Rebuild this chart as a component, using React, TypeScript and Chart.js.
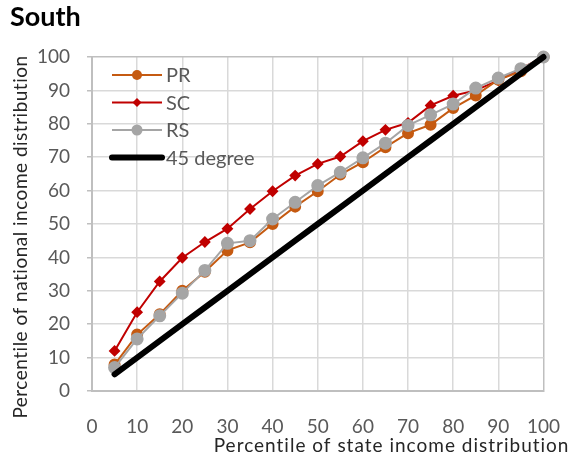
import React, { useEffect, useRef } from "react";
import { Chart, registerables } from "chart.js";

Chart.register(...registerables);

const titleText = "South";
const xAxisTitle = "Percentile of state income distribution";
const yAxisTitle = "Percentile of national income distribution";

const percentiles = [5, 10, 15, 20, 25, 30, 35, 40, 45, 50, 55, 60, 65, 70, 75, 80, 85, 90, 95, 100];
const prValues = [7.9, 16.9, 23, 30, 35.7, 42.1, 44.5, 50, 55.2, 59.8, 64.8, 68.5, 73, 77.2, 79.7, 84.7, 88.5, 93.2, 95.7, 100];
const scValues = [12, 23.6, 32.8, 39.9, 44.6, 48.6, 54.5, 59.8, 64.5, 68, 70.2, 74.8, 78.2, 80.3, 85.5, 88.4, 90, 93, 96.5, 100];
const rsValues = [7, 15.6, 22.5, 29.3, 36.1, 44.2, 45, 51.5, 56.5, 61.5, 65.5, 69.8, 74.2, 79.5, 82.7, 85.9, 90.7, 93.7, 96.5, 100];
const degreeValues = [5, 10, 15, 20, 25, 30, 35, 40, 45, 50, 55, 60, 65, 70, 75, 80, 85, 90, 95, 100];

const seriesLabels = ["PR", "SC", "RS", "45 degree"];

const FONT = "Lato";

const toPoints = (ys: number[]) => percentiles.map((x, i) => ({ x, y: ys[i] }));

const legendPlugin = {
  id: "insideLegend",
  afterDraw(chart: any) {
    const { ctx, chartArea } = chart;
    const datasets = chart.data.datasets;
    ctx.save();
    datasets.forEach((ds: any, i: number) => {
      const y = chartArea.top + 18 + i * 27.5;
      const x0 = chartArea.left + 20;
      const x1 = chartArea.left + 70;
      const xm = (x0 + x1) / 2;
      ctx.strokeStyle = ds.borderColor;
      ctx.lineWidth = ds.borderWidth;
      ctx.lineCap = ds.borderCapStyle || "butt";
      ctx.beginPath();
      ctx.moveTo(x0, y);
      ctx.lineTo(x1, y);
      ctx.stroke();
      const r = ds.pointRadius || 0;
      if (r > 0) {
        ctx.fillStyle = ds.pointBackgroundColor;
        ctx.beginPath();
        if (ds.pointStyle === "rectRot") {
          ctx.moveTo(xm, y - r);
          ctx.lineTo(xm + r, y);
          ctx.lineTo(xm, y + r);
          ctx.lineTo(xm - r, y);
          ctx.closePath();
        } else {
          ctx.arc(xm, y, r, 0, Math.PI * 2);
        }
        ctx.fill();
      }
      ctx.fillStyle = "#595959";
      ctx.font = `20px ${FONT}`;
      ctx.textAlign = "left";
      ctx.textBaseline = "middle";
      ctx.fillText(ds.label, x1 + 4, y + 1);
    });
    ctx.restore();
  },
};

const axisTitlePlugin = {
  id: "axisTitles",
  afterDraw(chart: any) {
    const { ctx, chartArea } = chart;
    ctx.save();
    ctx.fillStyle = "#262626";
    ctx.font = `19px ${FONT}`;
    ctx.textBaseline = "middle";
    ctx.textAlign = "right";
    (ctx as any).letterSpacing = "1px";
    ctx.fillText(xAxisTitle, chartArea.right + 26, chartArea.bottom + 55);
    (ctx as any).letterSpacing = "0.5px";
    ctx.translate(21, (chartArea.top + chartArea.bottom) / 2 + 13);
    ctx.rotate(-Math.PI / 2);
    ctx.textAlign = "center";
    ctx.fillText(yAxisTitle, 0, 0);
    ctx.restore();
  },
};

export default function App() {
  const canvasRef = useRef<HTMLCanvasElement | null>(null);

  useEffect(() => {
    if (!canvasRef.current) return;
    const gridColor = (c: any) => (c.tick && c.tick.value === 100 ? "#bfbfbf" : "#d9d9d9");
    const chart = new Chart(canvasRef.current, {
      type: "line",
      data: {
        datasets: [
          {
            label: seriesLabels[0],
            data: toPoints(prValues),
            borderColor: "#c55a11",
            backgroundColor: "#c55a11",
            pointBackgroundColor: "#c55a11",
            pointBorderColor: "#c55a11",
            borderWidth: 2,
            pointRadius: 5,
            pointStyle: "circle",
            clip: false,
            order: 2,
          },
          {
            label: seriesLabels[1],
            data: toPoints(scValues),
            borderColor: "#c00000",
            backgroundColor: "#c00000",
            pointBackgroundColor: "#c00000",
            pointBorderColor: "#c00000",
            borderWidth: 2,
            pointRadius: 4.5,
            pointStyle: "rectRot",
            clip: false,
            order: 3,
          },
          {
            label: seriesLabels[2],
            data: toPoints(rsValues),
            borderColor: "#a5a5a5",
            backgroundColor: "#a5a5a5",
            pointBackgroundColor: "#a5a5a5",
            pointBorderColor: "#a5a5a5",
            borderWidth: 2,
            pointRadius: 5.5,
            pointStyle: "circle",
            clip: false,
            order: 1,
          },
          {
            label: seriesLabels[3],
            data: toPoints(degreeValues),
            borderColor: "#000000",
            backgroundColor: "#000000",
            pointBackgroundColor: "#000000",
            borderWidth: 6,
            borderCapStyle: "round",
            pointRadius: 0,
            clip: false,
            order: 0,
          },
        ] as any,
      },
      options: {
        animation: false,
        responsive: false,
        layout: { padding: { left: 10, right: 34, top: 0, bottom: 0 } },
        plugins: {
          legend: { display: false },
          tooltip: { enabled: false },
          title: {
            display: true,
            text: titleText,
            align: "start",
            color: "#000000",
            font: { family: FONT, size: 27, weight: "bold" },
            padding: { top: 1, bottom: 23.6 },
          },
        },
        scales: {
          x: {
            type: "linear",
            min: 0,
            max: 100,
            ticks: { stepSize: 10, color: "#595959", font: { family: FONT, size: 19 }, padding: 19, maxRotation: 0 },
            grid: { color: gridColor, lineWidth: 1.5, tickLength: 5, tickColor: "rgba(0,0,0,0)" },
            border: { color: "#bfbfbf", width: 2 },
            afterFit: (s: any) => {
              s.height = 69;
            },
          },
          y: {
            type: "linear",
            min: 0,
            max: 100,
            ticks: { stepSize: 10, color: "#595959", font: { family: FONT, size: 19 }, padding: 17 },
            grid: { color: gridColor, lineWidth: 1.5, tickLength: 5, tickColor: "#bfbfbf" },
            border: { color: "#bfbfbf", width: 2 },
            afterFit: (s: any) => {
              s.width = 82;
            },
          },
        },
      } as any,
      plugins: [legendPlugin, axisTitlePlugin],
    });
    return () => chart.destroy();
  }, []);

  return (
    <div style={{ position: "absolute", left: 0, top: 0, width: 579, height: 460, background: "#fff" }}>
      <canvas ref={canvasRef} width={579} height={460} style={{ display: "block" }} />
    </div>
  );
}
